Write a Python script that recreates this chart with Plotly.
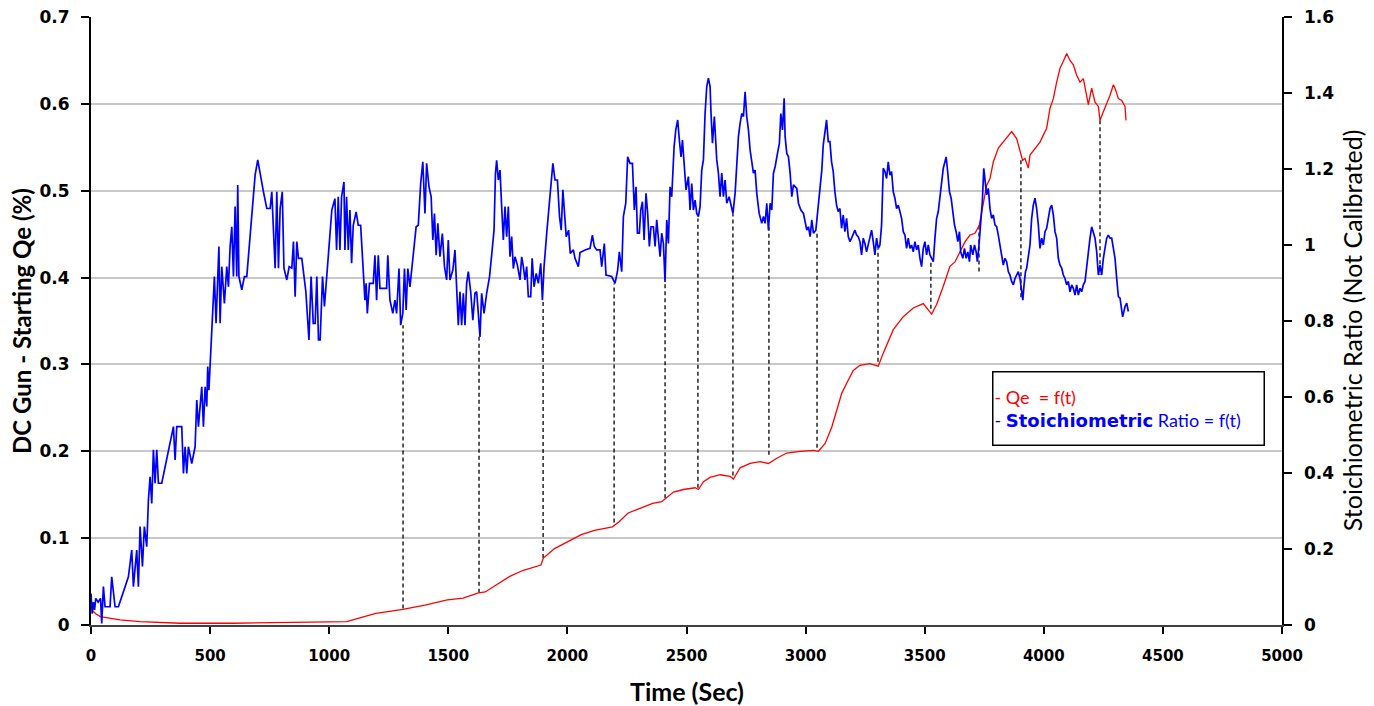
import plotly.graph_objects as go

# ---- Stoichiometric ratio (right axis) ----
ratio_t = [0,5,10,15,20,30,40,45,52,59,80,87,101,115,157,171,178,192,199,206,216,224,234,241,248,255,262,269,276,283,297,346,353,360,381,388,395,402,409,423,437,444,451,465,472,479,486,490,495,504,511,518,525,532,537,542,549,560,570,577,584,591,598,605,612,616,621,633,644,654,661,675,682,689,700,710,724,738,752,759,773,780,787,794,803,810,822,832,843,850,857,864,871,885,896,902,915,924,933,941,948,955,962,972,980,990,1004,1011,
 1024,1031,1038,1045,1052,1062,1066,1073,1080,1087,1094,1101,1113,1122,1132,1139,1143,1150,1155,1160,1169,1185,1192,1199,1206,1213,1241,1246,1255,1267,1276,1283,1293,1300,1309,1316,1323,1330,1339,1353,1365,1374,1384,1393,1402,1409,1419,1428,1435,1442,1449,1456,1465,1475,1484,1493,1500,1507,1519,1528,1535,1542,1549,1556,1563,1570,1577,1584,1594,1603,1612,1619,1626,1633,1640,1650,1661,1673,1682,1692,1698,1703,1710,1717,1724,1731,1738,1745,1752,1759,1766,1773,1780,1790,1801,1808,1815,1822,1829,1836,1846,1852,1860,1869,1878,1888,1895,1902,1913,1923,1930,1939,1948,1958,1967,1974,1981,1988,1995,2005,2012,2025,
 2032,2046,2053,2074,2095,2105,2113,2123,2137,2144,2155,2162,2186,2200,2211,2218,2228,2235,2245,2253,2263,2273,2281,2288,2294,2302,2308,2315,2322,2330,2337,2344,2351,2361,2368,2375,2382,2389,2396,2403,2410,2417,2424,2431,2438,2448,2455,2463,2470,2477,2483,2491,2498,2508,2515,2522,2529,2536,2543,2550,2557,2564,2571,2578,2585,2592,2599,2603,2609,2617,2627,2634,2641,2648,2655,2662,2669,2679,2687,2695,2704,2711,2718,2725,2732,2739,2746,2753,2760,2767,2774,2781,2788,2795,2805,2816,2823,2830,2837,2844,2851,2858,2865,2872,2882,2890,2896,2903,2910,2914,2921,2928,2935,2942,2949,2963,2970,2980,2991,2998,3005,3012,3019,3026,3033,3043,3051,3061,3068,
 3074,3081,3088,3095,3102,3109,3116,3123,3130,3137,3144,3151,3158,3165,3172,3179,3186,3193,3207,3214,3221,3228,3235,3242,3249,3256,3263,3270,3277,3284,3291,3298,3305,3312,3319,3326,3333,3340,3347,3354,3361,3368,3375,3382,3389,3396,3403,3410,3417,3424,3431,3438,3445,3452,3459,3466,3473,3480,3487,3494,3501,3508,3515,3522,3529,3536,3543,3550,3557,3564,3571,3578,3585,3590,3595,3604,3611,3618,3625,3632,3639,3646,3651,3660,3667,3674,3681,3688,3693,3702,3709,3716,3721,3728,3735,3742,3748,3753,3760,3767,3774,3781,3788,3795,3802,3809,3816,3823,3830,3837,3844,3851,3858,3865,3872,3879,3886,3893,3900,3907,3912,3917,3923,3928,3935,3942,3949,3956,3963,3970,3977,3984,3991,3998,4005,4012,4019,4026,4033,4040,4047,4054,4061,4068,4075,4082,4089,4096,4103,4110,4117,4124,4131,4138,4145,4152,4159,4166,4173,4180,4187,4194,4201,4208,4215,4222,4229,4236,4243,4250,4257,4264,4271,4278,4285,4292,4299,4306,4313,4320,4331,4341,4348,4355]
ratio_v = [0.083,0.03,0.06,0.04,0.07,0.06,0.07,0.004,0.101,0.048,0.048,0.127,0.048,0.048,0.127,0.197,0.101,0.197,0.101,0.259,0.154,0.259,0.206,0.329,0.390,0.320,0.461,0.373,0.461,0.373,0.373,0.522,0.434,0.522,0.522,0.399,0.469,0.399,0.469,0.425,0.469,0.592,0.522,0.627,0.522,0.627,0.575,0.680,0.618,0.741,0.838,0.917,0.794,0.943,0.996,0.794,0.943,0.846,0.943,0.890,0.996,1.048,0.917,1.101,0.917,1.158,0.917,0.882,0.917,0.917,0.969,1.092,1.140,1.184,1.224,1.184,1.140,1.096,1.096,1.140,0.939,1.140,0.939,1.096,1.140,0.939,0.908,0.943,0.939,1.009,0.864,1.009,0.965,0.965,0.917,0.877,0.750,0.917,0.794,0.794,0.917,0.750,0.750,0.917,0.838,0.917,1.048,1.092,
 1.122,0.987,1.127,0.987,1.127,1.166,0.987,1.127,0.987,1.092,0.952,1.052,1.087,1.052,1.052,0.969,0.925,0.855,0.899,0.820,0.899,0.899,0.973,0.855,0.973,0.886,0.886,0.973,0.855,0.820,0.855,0.820,0.938,0.789,0.820,0.938,0.829,0.938,0.890,0.969,1.048,1.052,1.162,1.219,1.083,1.215,1.153,1.127,1.013,1.083,0.973,1.057,0.969,1.030,0.943,0.908,1.013,0.908,0.934,0.987,0.864,0.789,0.877,0.789,0.873,0.789,0.899,0.930,0.877,0.802,0.873,0.877,0.820,0.758,0.873,0.820,0.873,0.916,0.973,1.039,1.188,1.223,1.171,1.197,1.101,1.013,1.101,1.022,1.101,0.969,1.022,0.938,0.969,0.947,0.908,0.969,0.943,0.908,0.943,0.864,0.864,0.965,0.890,0.925,0.899,0.952,0.855,0.943,1.030,1.101,1.171,1.215,1.171,1.171,1.074,1.039,1.145,1.074,1.022,1.039,0.978,0.987,
 0.965,0.943,0.980,0.987,0.991,1.026,0.996,0.987,0.987,0.943,1.004,0.921,0.917,0.899,0.934,0.982,0.930,1.075,1.110,1.232,1.215,1.215,1.092,1.153,1.031,1.031,1.092,1.114,1.013,1.136,1.083,0.996,1.048,1.048,0.996,1.066,1.022,0.969,1.031,1.004,0.903,1.066,1.004,1.153,1.127,1.259,1.303,1.329,1.276,1.232,1.276,1.197,1.145,1.180,1.092,1.162,1.092,1.118,1.083,1.075,1.101,1.197,1.224,1.346,1.417,1.439,1.417,1.346,1.268,1.338,1.224,1.189,1.127,1.189,1.127,1.171,1.110,1.127,1.101,1.083,1.136,1.215,1.285,1.320,1.346,1.338,1.403,1.338,1.303,1.250,1.224,1.189,1.197,1.136,1.083,1.057,1.075,1.057,1.110,1.039,1.110,1.092,1.189,1.206,1.241,1.268,1.346,1.303,1.386,1.285,1.241,1.232,1.189,1.127,1.158,1.149,1.110,1.092,1.083,1.057,1.039,1.048,1.022,1.066,1.031,1.039,1.092,1.153,1.197,
 1.263,1.298,1.329,1.272,1.272,1.219,1.193,1.140,1.105,1.088,1.096,1.044,1.079,1.035,1.070,1.022,1.009,1.018,1.039,1.026,1.022,1.009,0.974,1.018,1.004,0.982,1.000,1.018,1.039,1.009,0.974,1.018,0.991,1.000,1.053,1.202,1.193,1.175,1.219,1.184,1.193,1.140,1.123,1.096,1.105,1.088,1.070,1.035,1.026,0.991,1.018,0.991,1.000,0.982,1.009,0.987,1.000,0.965,0.943,0.991,1.009,0.974,1.000,0.974,0.965,0.956,1.018,1.070,1.088,1.132,1.175,1.202,1.219,1.232,1.202,1.140,1.123,1.088,1.053,1.035,1.009,1.035,0.982,0.965,0.991,0.965,0.982,0.956,1.000,0.974,1.000,0.982,0.956,1.000,1.061,1.114,1.202,1.175,1.132,1.149,1.096,1.070,1.079,1.053,1.048,1.026,1.000,0.974,0.947,0.965,0.956,0.930,0.921,0.904,0.895,0.912,0.921,0.930,0.912,0.877,0.855,0.895,0.930,0.939,0.965,1.000,1.070,1.105,1.123,1.096,1.053,0.991,1.018,1.000,1.035,1.044,1.070,1.096,1.105,1.079,1.035,1.018,0.965,0.947,0.939,0.921,0.912,0.895,0.904,0.877,0.895,0.886,0.868,0.895,0.868,0.886,0.877,0.895,0.904,0.947,0.982,1.018,1.048,1.035,1.018,0.982,0.921,0.947,0.921,0.965,0.991,1.018,1.026,1.018,1.018,0.991,0.965,0.912,0.864,0.860,0.811,0.838,0.847,0.825]

# ---- Qe (left axis, %) ----
qe_t = [0,20,39,80,122,206,300,374,600,800,1000,1074,1121,1196,1260,1309,1402,1496,1562,1627,1655,1702,1758,1815,1889,1899,1946,2002,2058,2114,2189,2217,2255,2302,2358,2396,2410,2424,2445,2487,2536,2550,2571,2599,2641,2683,2697,2725,2767,2809,2844,2879,2921,2977,3033,3054,3082,3110,3130,3152,3172,3200,3228,3270,3305,3326,3368,3410,3452,3494,3529,3550,3578,3606,3627,3648,3669,3690,3711,3729,3746,3760,3774,3788,3809,3837,3865,3886,3900,3911,3921,3935,3942,3963,3984,3998,4012,4026,4040,4054,4068,4082,4096,4110,4124,4138,4152,4166,4180,4187,4201,4215,4229,4236,4250,4264,4278,4292,4299,4313,4327,4341,4345]
qe_v = [0.018,0.013,0.0096,0.008,0.0058,0.004,0.003,0.002,0.002,0.003,0.004,0.004,0.0077,0.0135,0.016,0.018,0.023,0.029,0.031,0.037,0.038,0.046,0.056,0.063,0.069,0.077,0.088,0.096,0.104,0.109,0.113,0.119,0.129,0.134,0.140,0.142,0.145,0.149,0.153,0.156,0.158,0.156,0.165,0.170,0.173,0.171,0.168,0.181,0.186,0.188,0.186,0.192,0.198,0.200,0.201,0.200,0.209,0.228,0.247,0.267,0.278,0.293,0.299,0.301,0.298,0.313,0.340,0.355,0.365,0.370,0.358,0.369,0.390,0.413,0.418,0.430,0.441,0.449,0.451,0.460,0.483,0.506,0.514,0.533,0.549,0.558,0.568,0.560,0.545,0.535,0.537,0.526,0.541,0.549,0.556,0.564,0.572,0.595,0.606,0.625,0.641,0.649,0.658,0.650,0.645,0.633,0.625,0.629,0.610,0.599,0.618,0.602,0.597,0.581,0.591,0.600,0.610,0.622,0.618,0.606,0.604,0.597,0.581]

# ---- dashed connectors: Qe value (left axis) to ratio minimum (right axis) ----
dash_t = [1310,1629,1898,2196,2410,2548,2695,2846,3048,3304,3526,3728,3904,4236]
dash_qe = [0.019,0.037,0.077,0.118,0.146,0.158,0.172,0.196,0.204,0.303,0.364,0.460,0.535,0.581]
dash_ratio = [0.789,0.763,0.855,0.899,0.905,1.070,1.083,1.048,1.031,0.991,0.960,0.930,0.855,0.921]

# ---- axis ticks ----
x_ticks = list(range(0, 5001, 500))
y2_ticks = [0, 0.2, 0.4, 0.6, 0.8, 1.0, 1.2, 1.4, 1.6]
y2_labels = ["0", "0.2", "0.4", "0.6", "0.8", "1", "1.2", "1.4", "1.6"]

Y1_MAX, Y2_MAX = 0.7, 1.6

fig = go.Figure()

dx, dy = [], []
for t, q, r in zip(dash_t, dash_qe, dash_ratio):
    dx += [t, t, None]
    dy += [q, r * Y1_MAX / Y2_MAX, None]
fig.add_trace(go.Scatter(x=dx, y=dy, mode="lines", line=dict(color="black", width=1.3, dash="4px,3px"),
                         showlegend=False, hoverinfo="skip"))

fig.add_trace(go.Scatter(x=ratio_t, y=ratio_v, mode="lines", yaxis="y2",
                         line=dict(color="#0000FF", width=1.7), name="Stoichiometric Ratio = f(t)", showlegend=False))
fig.add_trace(go.Scatter(x=qe_t, y=qe_v, mode="lines",
                         line=dict(color="#FF0000", width=1.3), name="Qe = f(t)", showlegend=False))

ytickfont = dict(family="DejaVu Sans", size=17, color="black", weight="bold")
xtickfont = dict(family="DejaVu Sans", size=15, color="black", weight="bold")

fig.update_layout(
    width=1374, height=706,
    margin=dict(l=91, r=92, t=17, b=81, autoexpand=False),
    paper_bgcolor="white", plot_bgcolor="white",
    xaxis=dict(range=[0, 5000], tickvals=x_ticks, ticks="outside", ticklen=7, tickcolor="black",
               tickwidth=1.5, showline=True, linecolor="#404040", linewidth=2, showgrid=False,
               zeroline=False, tickfont=xtickfont, ticklabelstandoff=9, automargin=False),
    yaxis=dict(range=[0, Y1_MAX], dtick=0.1, ticks="outside", ticklen=8, tickcolor="black", tickwidth=1.5,
               showline=True, linecolor="black", linewidth=2, showgrid=True, gridcolor="#C8C8C8",
               gridwidth=1.5, zeroline=False, tickfont=ytickfont, ticklabelstandoff=8, automargin=False),
    yaxis2=dict(range=[0, Y2_MAX], tickvals=y2_ticks, ticktext=["\u2002" + s for s in y2_labels],
                overlaying="y", side="right", ticks="outside", ticklen=8,
                tickcolor="black", tickwidth=1.5, showline=True, linecolor="black", linewidth=2,
                showgrid=False, zeroline=False, tickfont=ytickfont, automargin=False),
)

# axis titles
fig.add_annotation(xref="paper", yref="paper", x=0.5, y=-0.108, xanchor="center", yanchor="middle",
                   text="Time (Sec)", showarrow=False,
                   font=dict(family="Lato", size=25, color="black", weight="bold"))
fig.add_annotation(xref="paper", yref="paper", x=-0.0588, y=0.5, xanchor="center", yanchor="middle",
                   text="DC Gun - Starting Qe (%)", textangle=-90, showarrow=False,
                   font=dict(family="Lato", size=24, color="black", weight="bold"))
fig.add_annotation(xref="paper", yref="paper", x=1.0588, y=0.485, xanchor="center", yanchor="middle",
                   text="Stoichiometric Ratio (Not Calibrated)", textangle=-90, showarrow=False,
                   font=dict(family="Lato", size=25, color="black"))

legend_text = ("<span style='color:#FF0000'>- Qe  = f(t)</span><br>"
               "<span style='color:#0000FF'>- <b><span style='font-family:DejaVu Sans'>Stoichiometric</span></b> Ratio = f(t)</span>")
fig.add_annotation(xref="paper", yref="paper", x=0.8707, y=0.3553, xanchor="center", yanchor="middle",
                   text=legend_text, showarrow=False, align="left", valign="middle",
                   font=dict(family="Lato", size=18), width=268, height=70,
                   bordercolor="black", borderwidth=1.5, borderpad=1, bgcolor="white")

fig.write_html("out.html", config={"displayModeBar": False},
               post_script="document.body.style.margin='0';")
